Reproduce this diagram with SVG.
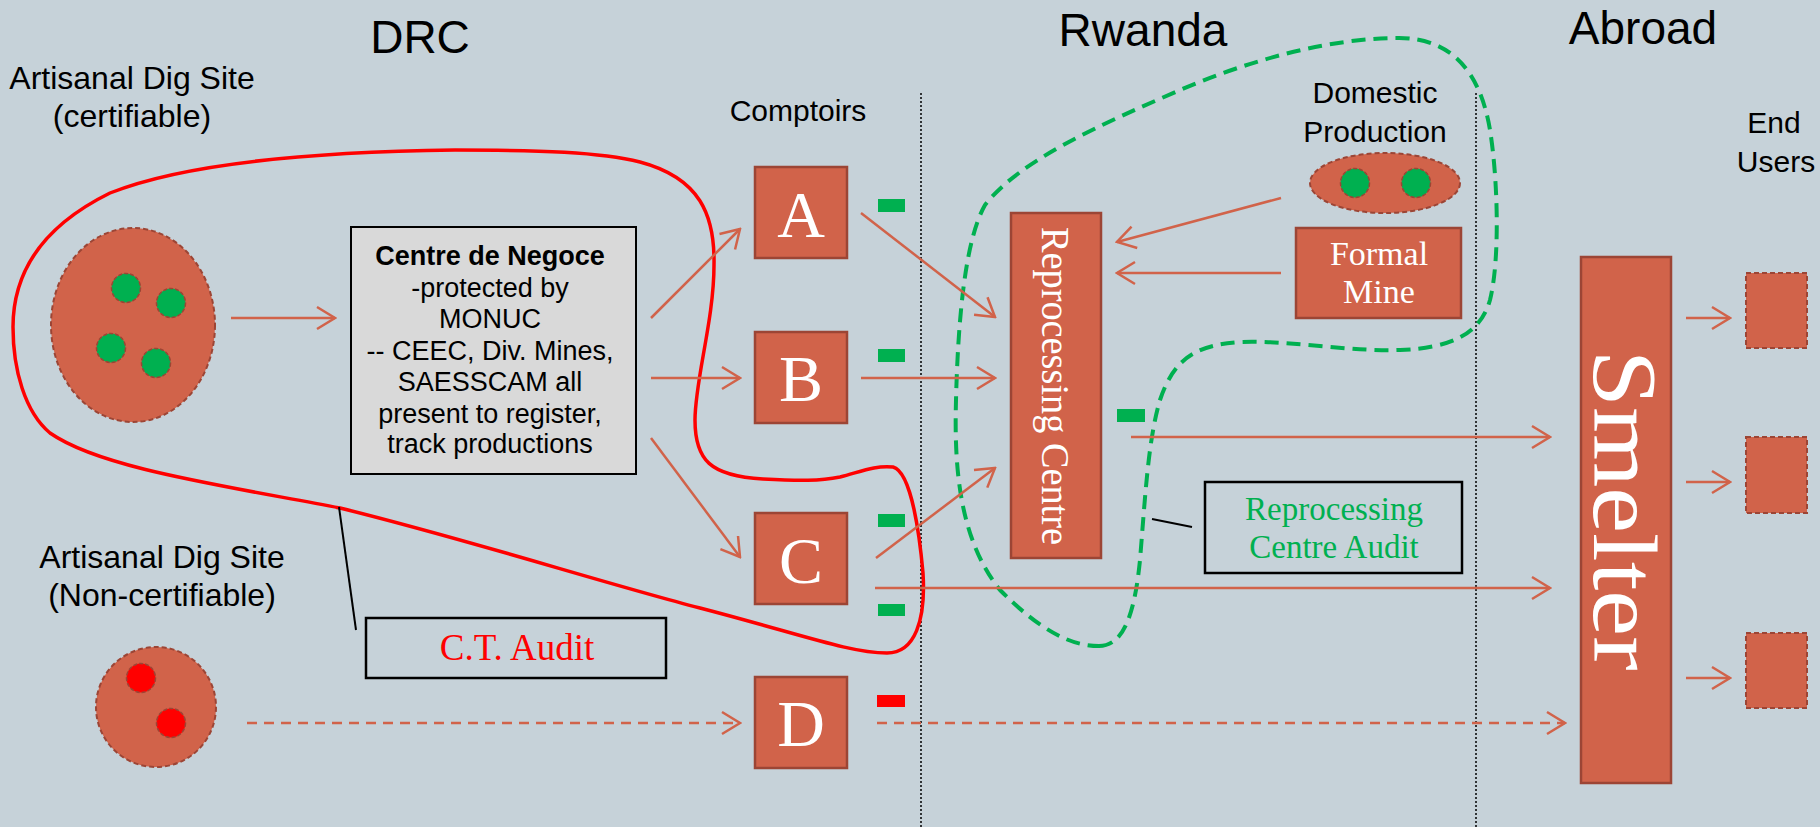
<svg xmlns="http://www.w3.org/2000/svg" width="1820" height="827" viewBox="0 0 1820 827">
<defs>
<style>
.bg{fill:#c6d2d9}
.lbl{font-family:"Liberation Sans",Arial,sans-serif;fill:#000}
.box{fill:#d1634a;stroke:#9c4535;stroke-width:2.5}
.dashbox{fill:#d1634a;stroke:#9c4535;stroke-width:2;stroke-dasharray:5 3}
.letter{font-family:"Liberation Serif","Times New Roman",serif;fill:#fff;text-anchor:middle}
.flow{stroke:#d1634a;stroke-width:2.5;fill:none;marker-end:url(#ah)}
.flowd{stroke:#d1634a;stroke-width:2.5;fill:none;stroke-dasharray:10 7;marker-end:url(#ah)}
.gdot{fill:#00b050;stroke:#9c4535;stroke-width:1.5;stroke-dasharray:4 2}
.rdot{fill:#ff0000;stroke:#9c4535;stroke-width:1.5;stroke-dasharray:4 2}
.gbar{fill:#00b050}
.div{stroke:#000;stroke-width:1.5;stroke-dasharray:2 2}
.lead{stroke:#000;stroke-width:2}
</style>
<marker id="ah" markerUnits="userSpaceOnUse" viewBox="-21 -13 23 26" markerWidth="23" markerHeight="26" refX="0" refY="0" orient="auto">
<path d="M-18,-11 L0,0 L-18,11" fill="none" stroke="#d1634a" stroke-width="2.5"/>
</marker>
</defs>
<rect class="bg" x="0" y="0" width="1820" height="827"/>

<g id="dividers">
<line class="div" x1="921" y1="93" x2="921" y2="827"/>
<line class="div" x1="1476" y1="93" x2="1476" y2="827"/>
</g>

<g id="headers" class="lbl" font-size="46" text-anchor="middle">
<text x="420" y="53">DRC</text>
<text x="1143" y="46">Rwanda</text>
<text x="1643" y="44">Abroad</text>
</g>

<g id="loops">
<path d="M13,327 C13,270 45,225 110,193 C180,165 300,152 455,150 C540,150 600,152 640,162 C700,178 715,215 714,265 C714,320 695,380 695,420 C695,460 710,476 763,479 C800,481 820,481 840,477 C860,472 875,465 893,467 C912,472 920,540 923,573 C926,620 915,653 887,653 C850,653 800,634 700,608 C600,582 470,540 340,508 C220,485 100,468 50,433 C25,412 13,370 13,327 Z" fill="none" stroke="#ff0000" stroke-width="3.5"/>
<path d="M1099,646 C1125,646 1135,610 1140,560 C1145,500 1148,440 1160,400 C1175,355 1200,345 1240,342 C1290,340 1350,352 1400,350 C1450,348 1480,335 1490,300 C1500,260 1498,180 1490,130 C1480,70 1450,38 1399,38 C1330,38 1250,60 1180,90 C1100,125 1020,160 985,205 C965,240 958,320 956,400 C954,470 960,540 1000,590 C1040,630 1070,646 1099,646 Z" fill="none" stroke="#00b050" stroke-width="4" stroke-dasharray="14 8"/>
</g>

<g id="site-certifiable">
<text class="lbl" font-size="32" text-anchor="middle" x="132" y="89">Artisanal Dig Site</text>
<text class="lbl" font-size="32" text-anchor="middle" x="132" y="127">(certifiable)</text>
<ellipse class="dashbox" cx="133" cy="325" rx="82" ry="97"/>
<circle class="gdot" cx="126" cy="288" r="14.5"/>
<circle class="gdot" cx="171" cy="303" r="14.5"/>
<circle class="gdot" cx="111" cy="348" r="14.5"/>
<circle class="gdot" cx="156" cy="363" r="14.5"/>
</g>

<g id="site-noncertifiable">
<text class="lbl" font-size="32" text-anchor="middle" x="162" y="568">Artisanal Dig Site</text>
<text class="lbl" font-size="32" text-anchor="middle" x="162" y="606">(Non-certifiable)</text>
<ellipse class="dashbox" cx="156" cy="707" rx="60" ry="60"/>
<circle class="rdot" cx="141" cy="678" r="14.5"/>
<circle class="rdot" cx="171" cy="723" r="14.5"/>
</g>

<g id="negoce">
<rect x="351" y="227" width="285" height="247" fill="#d9d9d9" stroke="#000" stroke-width="2"/>
<g class="lbl" font-size="27" text-anchor="middle">
<text x="490" y="265" font-weight="bold">Centre de Negoce</text>
<text x="490" y="297">-protected by</text>
<text x="490" y="328">MONUC</text>
<text x="490" y="360">-- CEEC, Div. Mines,</text>
<text x="490" y="391">SAESSCAM all</text>
<text x="490" y="423">present to register,</text>
<text x="490" y="453">track productions</text>
</g>
</g>

<g id="comptoirs">
<text class="lbl" font-size="30" text-anchor="middle" x="798" y="121">Comptoirs</text>
<g id="A"><rect class="box" x="755" y="167" width="92" height="91"/><text class="letter" font-size="66" x="801" y="237">A</text></g>
<g id="B"><rect class="box" x="755" y="332" width="92" height="91"/><text class="letter" font-size="66" x="801" y="401">B</text></g>
<g id="C"><rect class="box" x="755" y="513" width="92" height="91"/><text class="letter" font-size="66" x="801" y="583">C</text></g>
<g id="D"><rect class="box" x="755" y="677" width="92" height="91"/><text class="letter" font-size="66" x="801" y="746">D</text></g>
</g>

<g id="status-bars">
<rect class="gbar" x="878" y="199" width="27" height="13"/>
<rect class="gbar" x="878" y="349" width="27" height="13"/>
<rect class="gbar" x="878" y="514" width="27" height="13"/>
<rect class="gbar" x="878" y="604" width="27" height="12"/>
<rect x="877" y="695" width="28" height="12" fill="#ff0000"/>
<rect class="gbar" x="1117" y="409" width="28" height="13"/>
</g>

<g id="reprocessing">
<rect class="box" x="1011" y="213" width="90" height="345"/>
<text class="letter" font-size="40" textLength="318" lengthAdjust="spacingAndGlyphs" transform="translate(1042,386) rotate(90)">Reprocessing Centre</text>
</g>

<g id="domestic">
<text class="lbl" font-size="30" text-anchor="middle" x="1375" y="103">Domestic</text>
<text class="lbl" font-size="30" text-anchor="middle" x="1375" y="142">Production</text>
<ellipse class="dashbox" cx="1385" cy="183" rx="75" ry="30"/>
<circle class="gdot" cx="1355" cy="183" r="14.5"/>
<circle class="gdot" cx="1416" cy="183" r="14.5"/>
</g>

<g id="formal-mine">
<rect class="box" x="1296" y="228" width="165" height="90"/>
<text class="letter" font-size="34" x="1379" y="265">Formal</text>
<text class="letter" font-size="34" x="1379" y="303">Mine</text>
</g>

<g id="smelter">
<rect class="box" x="1581" y="257" width="90" height="526"/>
<text class="letter" font-size="92" textLength="321" lengthAdjust="spacingAndGlyphs" transform="translate(1594,510) rotate(90)">Smelter</text>
</g>

<g id="end-users">
<text class="lbl" font-size="30" text-anchor="middle" x="1774" y="133">End</text>
<text class="lbl" font-size="30" text-anchor="middle" x="1776" y="172">Users</text>
<rect class="dashbox" x="1746" y="273" width="61" height="75"/>
<rect class="dashbox" x="1746" y="437" width="61" height="76"/>
<rect class="dashbox" x="1746" y="633" width="61" height="75"/>
</g>

<g id="ct-audit">
<rect x="366" y="618" width="300" height="60" fill="none" stroke="#000" stroke-width="2.5"/>
<text x="517" y="660" font-family="Liberation Serif,serif" font-size="37" fill="#ff0000" text-anchor="middle">C.T. Audit</text>
</g>

<g id="rc-audit">
<rect x="1205" y="482" width="257" height="91" fill="none" stroke="#000" stroke-width="2.5"/>
<text x="1334" y="520" font-family="Liberation Serif,serif" font-size="33" fill="#00b050" text-anchor="middle">Reprocessing</text>
<text x="1334" y="558" font-family="Liberation Serif,serif" font-size="33" fill="#00b050" text-anchor="middle">Centre Audit</text>
</g>

<g id="connectors">
<line class="flow" x1="231" y1="318" x2="335" y2="318"/>
<line class="flow" x1="651" y1="318" x2="740" y2="229"/>
<line class="flow" x1="651" y1="378" x2="740" y2="378"/>
<line class="flow" x1="651" y1="438" x2="740" y2="557"/>
<line class="flowd" x1="247" y1="723" x2="740" y2="723"/>
<line class="flow" x1="861" y1="213" x2="995" y2="317"/>
<line class="flow" x1="861" y1="378" x2="995" y2="378"/>
<line class="flow" x1="876" y1="558" x2="995" y2="468"/>
<line class="flow" x1="1281" y1="198" x2="1117" y2="242"/>
<line class="flow" x1="1281" y1="273" x2="1117" y2="273"/>
<line class="flow" x1="1131" y1="437" x2="1550" y2="437"/>
<line class="flow" x1="875" y1="588" x2="1550" y2="588"/>
<line class="flowd" x1="877" y1="723" x2="1565" y2="723"/>
<line class="flow" x1="1686" y1="318" x2="1730" y2="318"/>
<line class="flow" x1="1686" y1="482" x2="1730" y2="482"/>
<line class="flow" x1="1686" y1="678" x2="1730" y2="678"/>
<line class="lead" x1="339" y1="507" x2="356" y2="630"/>
<line class="lead" x1="1152" y1="519" x2="1192" y2="527"/>
</g>
</svg>
